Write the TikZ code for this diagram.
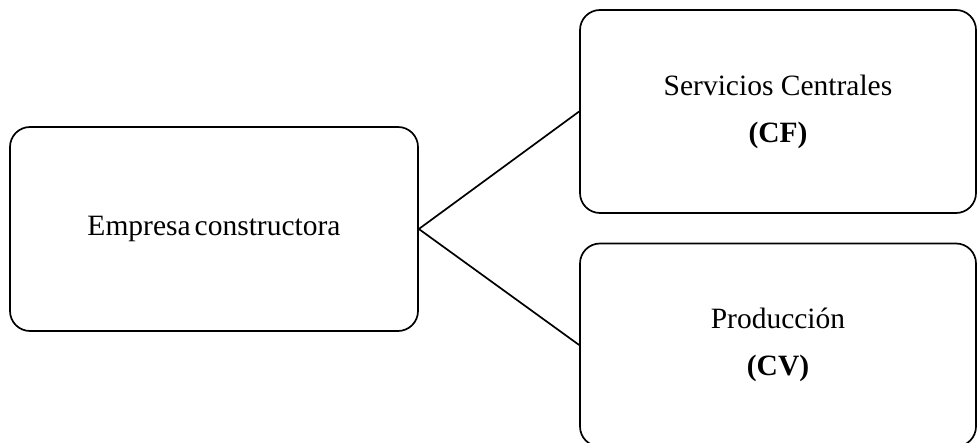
\documentclass[tikz,border=0pt]{standalone}
\usepackage{fontspec}
\setmainfont{Liberation Serif}
\usepackage{tikz}

\begin{document}
\begin{tikzpicture}[
  x=1pt, y=-1pt,
  box/.style={draw, line width=1.7pt, rounded corners=20pt, inner sep=0pt,
    align=center, font=\fontsize{29.5}{47}\selectfont},
  wide/.style={box, minimum width=408pt, minimum height=204pt},
  side/.style={box, minimum width=396pt, minimum height=203pt},
  link/.style={line width=1.7pt}
]
  \clip (0,0) rectangle (977,443);

  % Company
  \node[wide] (empresa) at (214,229) {Empresa\hspace{4pt}constructora};

  % Branches
  \node[side] (servicios) at (778,111.5) {Servicios Centrales\\\textbf{(CF)}};
  \node[side] (produccion) at (778,345) {Producción\\\textbf{(CV)}};

  \draw[link] (empresa.east) -- (servicios.west);
  \draw[link] (empresa.east) -- (produccion.west);
\end{tikzpicture}
\end{document}
